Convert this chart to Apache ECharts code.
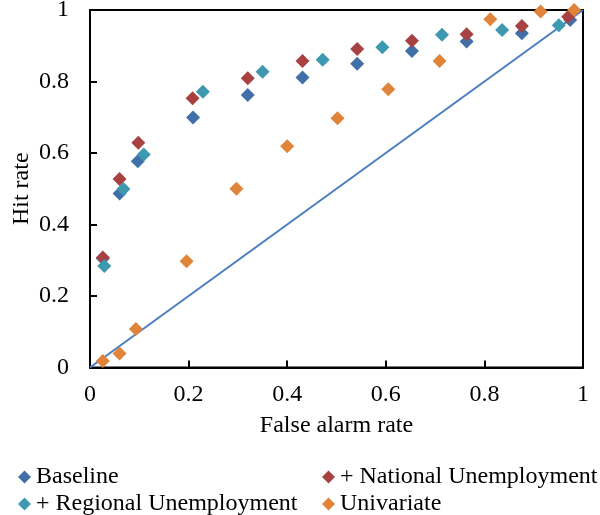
<!DOCTYPE html>
<html>
<head>
<meta charset="utf-8">
<script src="https://cdn.jsdelivr.net/npm/echarts@6/dist/echarts.min.js"></script>
<style>html,body{margin:0;padding:0;background:#fff}#c{width:600px;height:515px}</style>
</head>
<body>
<div id="c"></div>
<script>
const seriesNames = ['Baseline', '+ National Unemployment', '+ Regional Unemployment', 'Univariate'];
const baseline = [[0.026,0.305],[0.060,0.487],[0.097,0.577],[0.209,0.699],[0.320,0.762],[0.431,0.811],[0.542,0.850],[0.653,0.885],[0.764,0.912],[0.876,0.935],[0.974,0.972]];
const national = [[0.026,0.308],[0.060,0.527],[0.098,0.629],[0.208,0.753],[0.320,0.809],[0.431,0.857],[0.542,0.891],[0.653,0.914],[0.764,0.932],[0.876,0.955],[0.970,0.981]];
const regional = [[0.029,0.284],[0.068,0.499],[0.109,0.596],[0.229,0.771],[0.350,0.827],[0.472,0.861],[0.593,0.896],[0.714,0.931],[0.836,0.944],[0.951,0.957]];
const univariate = [[0.026,0.018],[0.060,0.039],[0.093,0.108],[0.196,0.297],[0.297,0.500],[0.400,0.619],[0.502,0.697],[0.605,0.778],[0.709,0.857],[0.812,0.974],[0.914,0.996],[0.982,1.000]];
const diagonal = [[0,0],[1,1]];
const colors = ['#4170A8', '#A84242', '#3D98B0', '#E0843A'];
const font = 'Liberation Serif';

const chart = echarts.init(document.getElementById('c'), null, {renderer: 'canvas'});
const mk = (name, data, color) => ({
  name, type: 'scatter', data, symbol: 'diamond', symbolSize: 14,
  itemStyle: {color, opacity: 1}
});
const lg = (name, left, top) => ({
  data: [name], left, top, padding: 0, itemWidth: 13, itemHeight: 13, itemGap: 0,
  icon: 'diamond', textStyle: {fontFamily: font, fontSize: 24, color: '#000'}
});
chart.setOption({
  animation: false,
  grid: {left: 90, right: 17, top: 10, bottom: 147.5, show: true, borderColor: '#000', borderWidth: 2, outerBoundsMode: 'none', containLabel: false},
  xAxis: {
    type: 'value', min: 0, max: 1, interval: 0.2,
    name: 'False alarm rate', nameLocation: 'middle', nameGap: 46, nameMoveOverlap: false,
    nameTextStyle: {fontFamily: font, fontSize: 24, color: '#000'},
    axisLine: {show: true, onZero: false, lineStyle: {color: '#000', width: 2}},
    axisTick: {show: true, inside: true, length: 7, lineStyle: {color: '#000', width: 2}},
    axisLabel: {fontFamily: font, fontSize: 24, color: '#000', margin: 15},
    splitLine: {show: false}
  },
  yAxis: {
    type: 'value', min: 0, max: 1, interval: 0.2,
    name: 'Hit rate', nameLocation: 'middle', nameGap: 56, nameRotate: 90, nameMoveOverlap: false,
    nameTextStyle: {fontFamily: font, fontSize: 24, color: '#000'},
    axisLine: {show: true, onZero: false, lineStyle: {color: '#000', width: 2}},
    axisTick: {show: true, inside: true, length: 7, lineStyle: {color: '#000', width: 2}},
    axisLabel: {fontFamily: font, fontSize: 24, color: '#000', margin: 21},
    splitLine: {show: false}
  },
  legend: [
    lg(seriesNames[0], 18, 465),
    lg(seriesNames[2], 18, 492),
    lg(seriesNames[1], 322, 465),
    lg(seriesNames[3], 322, 492)
  ],
  series: [
    {name: 'diag', type: 'line', data: diagonal, symbol: 'none', lineStyle: {color: '#4A7EC0', width: 2}, z: 1, silent: true},
    mk(seriesNames[0], baseline, colors[0]),
    mk(seriesNames[1], national, colors[1]),
    mk(seriesNames[2], regional, colors[2]),
    mk(seriesNames[3], univariate, colors[3])
  ]
});
</script>
</body>
</html>
